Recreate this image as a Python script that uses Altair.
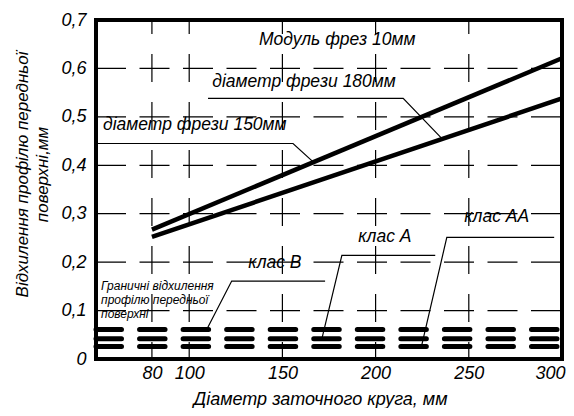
import altair as alt
import pandas as pd

FONT = "Liberation Sans, Arial, sans-serif"

# axes
x_ticks = [80, 100, 150, 200, 250, 300]
y_ticks = [0, 0.1, 0.2, 0.3, 0.4, 0.5, 0.6, 0.7]
grid_y = [0.1, 0.2, 0.3, 0.4, 0.5, 0.6]
grid_x = [80, 100, 150, 200, 250]
x_left, x_right = 50, 300
y_top, y_bottom = 0.7, 0.0

# plot frame as four thin filled bars (left, right, top, bottom)
frame_x = [49.0, 299.0, 49.0, 49.0]
frame_x2 = [51.0, 301.0, 301.0, 301.0]
frame_y = [-0.004, -0.004, 0.696, -0.004]
frame_y2 = [0.704, 0.704, 0.704, 0.004]

# main curves (cutter diameter 150 mm and 180 mm)
curve_names = ["150", "150", "180", "180"]
curve_x = [80, 300, 80, 300]
curve_y = [0.267, 0.621, 0.252, 0.538]

# tolerance classes (limit deviations)
class_names = ["клас В", "клас А", "клас АА"]
class_limits = [0.061, 0.042, 0.026]

# leader lines
leader_id = ["150"] * 3 + ["180"] * 3 + ["B"] * 3 + ["A"] * 3 + ["AA"] * 3
leader_x = [50, 155.7, 166.5,
            110.1, 214.8, 235.6,
            109.4, 122.8, 172.9,
            171.2, 181.9, 232.0,
            224.6, 238.2, 295.8]
leader_y = [0.445, 0.445, 0.407,
            0.538, 0.538, 0.455,
            0.061, 0.161, 0.161,
            0.042, 0.214, 0.214,
            0.026, 0.251, 0.251]
leader_order = [0, 1, 2] * 5

# annotation texts
ann_text = ["Модуль фрез 10мм", "діаметр фрези 180мм", "діаметр фрези 150мм",
            "клас В", "клас А", "клас АА"]
ann_x = [179.4, 161.6, 103.0, 146.0, 205.0, 265.0]
ann_y = [0.658, 0.571, 0.4825, 0.198, 0.2515, 0.294]

note_text = ["Граничні відхилення", "профілю передньої", "поверхні"]
note_x = [52.7, 52.7, 52.7]
note_y = [0.1505, 0.1216, 0.0928]

xs = alt.Scale(domain=[50, 300], nice=False, zero=False)
ys = alt.Scale(domain=[0, 0.7], nice=False, zero=True)


def hrules(yvals, a=x_left, b=x_right):
    n = len(yvals)
    return pd.DataFrame({"x": [a] * n, "x2": [b] * n, "y": yvals})


def vrules(xvals, a=y_top, b=y_bottom):
    n = len(xvals)
    return pd.DataFrame({"x": xvals, "y": [a] * n, "y2": [b] * n})


grid_h = alt.Chart(hrules(grid_y)).mark_rule(
    color="black", strokeWidth=1.2, strokeDash=[30, 13.5]
).encode(x2="x2:Q")

grid_v = alt.Chart(vrules(grid_x)).mark_rule(
    color="black", strokeWidth=1.2, strokeDash=[28, 20], strokeDashOffset=14
).encode(y2="y2:Q")

band = alt.Chart(hrules(class_limits).assign(c=class_names)).mark_rule(
    color="black", strokeWidth=5, strokeDash=[25.5, 18.05], strokeCap="round"
).encode(x2="x2:Q")

frame = alt.Chart(pd.DataFrame({"x": frame_x, "x2": frame_x2,
                                "y": frame_y, "y2": frame_y2})).mark_rect(
    color="black", fill="black", opacity=1
).encode(x2="x2:Q", y2="y2:Q")

curves = alt.Chart(pd.DataFrame({"s": curve_names, "x": curve_x, "y": curve_y})).mark_line(
    color="black", strokeWidth=4.5, strokeCap="butt"
).encode(detail="s:N")

leaders = alt.Chart(pd.DataFrame({"id": leader_id, "x": leader_x, "y": leader_y,
                                  "o": leader_order})).mark_line(
    color="black", strokeWidth=1.2
).encode(detail="id:N", order="o:Q")

ann = alt.Chart(pd.DataFrame({"t": ann_text, "x": ann_x, "y": ann_y})).mark_text(
    font=FONT, fontStyle="italic", fontSize=17.5, color="black", align="center",
    baseline="middle"
).encode(text="t:N")

note = alt.Chart(pd.DataFrame({"t": note_text, "x": note_x, "y": note_y})).mark_text(
    font=FONT, fontStyle="italic", fontSize=12, color="black", align="left",
    baseline="middle"
).encode(text="t:N")

x_axis = alt.Axis(values=x_ticks, grid=False, ticks=False, domain=False,
                  labelFont=FONT, labelFontStyle="italic", labelFontSize=18,
                  labelColor="black", labelPadding=5, labelFlush=True,
                  labelFlushOffset=3,
                  title="Діаметр заточного круга, мм", titleFont=FONT,
                  titleFontStyle="italic", titleFontWeight="normal",
                  titleFontSize=18, titleColor="black",
                  titleX=224, titleY=40, titleBaseline="middle")
y_axis = alt.Axis(values=y_ticks, grid=False, ticks=False, domain=False,
                  labelFont=FONT, labelFontStyle="italic", labelFontSize=18,
                  labelColor="black", labelPadding=10, labelFlush=False,
                  labelExpr="datum.value == 0 ? '0' : replace(format(datum.value, '.1f'), '.', ',')",
                  title=["Відхилення профілю передньої", "поверхні,мм"],
                  titleFont=FONT, titleFontStyle="italic", titleFontWeight="normal",
                  titleFontSize=17, titleColor="black", titleLineHeight=20,
                  titleX=-74, titleY=154, titleBaseline="middle",
                  titleAlign="center", titleAngle=270)

chart = alt.layer(grid_h, grid_v, band, curves, leaders, ann, note, frame).encode(
    x=alt.X("x:Q", scale=xs, axis=x_axis),
    y=alt.Y("y:Q", scale=ys, axis=y_axis),
).properties(
    width=466, height=339,
    autosize=alt.AutoSizeParams(type="none"),
    padding={"left": 88, "top": 12, "right": 4, "bottom": 49},
    background="white",
).configure_view(stroke="black", strokeWidth=4)

chart.save("out.html", embed_options={"renderer": "svg", "actions": False})
